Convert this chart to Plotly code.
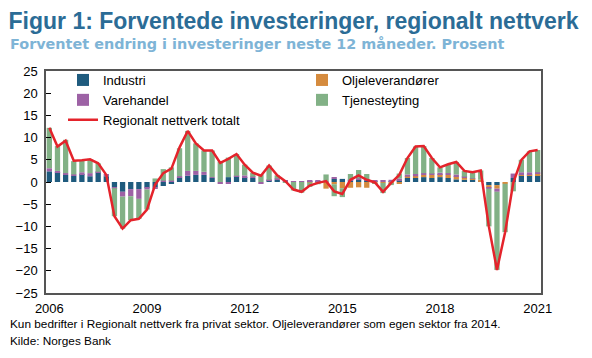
import plotly.graph_objects as go

# ---- data (quarterly, 2006K1 - 2021K1) ----
years = [2006]*4 + [2007]*4 + [2008]*4 + [2009]*4 + [2010]*4 + [2011]*4 + [2012]*4 + \
        [2013]*4 + [2014]*4 + [2015]*4 + [2016]*4 + [2017]*4 + [2018]*4 + [2019]*4 + \
        [2020]*4 + [2021]
quarter_no = [1, 2, 3, 4]*15 + [1]

industri = [2.4, 2.2, 1.6, 1.4, 1.8, 1.3, 2.2, 1.3,
            -1.2, -2.2, -1.6, -1.6, -1.3, -1.2, -0.9, -0.3,
            1.0, 1.4, 1.6, 1.6, 0.9, 0.0, 1.1, 1.3,
            1.1, 0.9, 0.0, 0.3, 0.5, 0.0, 0.0, 0.0,
            0.1, 0.1, 0.0, 0.7, 0.7, 0.3, 0.6, 0.3,
            0.1, 0.0, 0.2, 0.4, 0.9, 0.9, 1.1, 0.9,
            1.1, 0.9, 0.6, 0.5, 0.6, 0.2, -0.7, -0.7,
            0.0, 0.9, 1.5, 1.5, 1.5]
oljeleverandorer = [None]*32 + [
            -0.1, -0.1, -1.5, -0.5, -1.4, -1.3, -1.2, -1.3,
            -0.3, -0.2, -0.3, -0.3, 0.3, 0.4, 0.5, 0.7,
            0.7, 0.7, 0.7, 0.5, 0.1, 0.3, -0.6, -0.8,
            -0.4, 0.0, 0.3, 0.3, 0.4]
varehandel = [0.7, 0.3, 0.4, 0.3, 0.4, 0.7, 0.1, 0.5,
              -0.2, -1.1, -1.6, -2.2, -0.4, -0.2, 0.3, 0.3,
              0.3, 1.1, 0.9, 0.7, 0.2, -0.3, -0.3, 0.1,
              0.4, 0.3, -0.3, 0.2, 0.3, 0.3, 0.2, 0.2,
              0.2, 0.2, 0.1, 0.4, 0.0, 0.2, 0.2, 0.2,
              0.2, 0.3, 0.3, 0.4, 0.5, 0.5, 0.4, 0.3,
              0.3, 0.4, 0.4, 0.2, 0.1, 0.0, -0.2, -0.7,
              0.0, 1.0, 0.4, 0.4, 0.3]
tjenesteyting = [9.1, 5.6, 7.5, 3.0, 2.7, 3.1, 1.9, 0.0,
                 -6.3, -7.2, -5.4, -4.5, -4.5, 0.8, 2.6, 3.0,
                 6.3, 9.0, 6.2, 4.8, 6.0, 4.6, 4.4, 4.9,
                 2.4, 0.9, 1.7, 3.2, 0.7, -0.1, -1.9, -2.4,
                 -1.0, -0.4, 1.6, -2.7, -2.0, 1.3, 1.9, 1.3,
                 -0.1, -2.3, -0.4, 1.1, 3.7, 6.2, 6.1, 3.5,
                 1.2, 2.0, 2.8, 1.3, 1.4, 2.1, -8.5, -17.6,
                 -10.9, -2.1, 2.8, 4.7, 5.0]
totalt = [12.2, 8.0, 9.3, 4.8, 4.9, 5.1, 4.2, 1.6,
          -7.7, -10.5, -8.6, -8.3, -6.2, -0.6, 2.0, 3.0,
          7.8, 11.5, 8.7, 7.1, 7.1, 4.3, 5.2, 6.3,
          3.9, 2.1, 1.4, 3.7, 1.5, 0.2, -1.7, -2.2,
          -0.8, -0.2, 0.2, -2.1, -2.7, 0.5, 1.5, 0.5,
          -0.1, -2.2, -0.2, 1.6, 5.4, 8.0, 8.1, 5.4,
          3.3, 4.0, 4.5, 2.5, 2.2, 2.6, -10.0, -19.8,
          -11.3, -0.2, 5.0, 6.9, 7.2]
tick_years = [2006, 2009, 2012, 2015, 2018, 2021]
tick_labels = ["2006", "2009", "2012", "2015", "2018", "2021"]

x = [y + (q - 1) / 4 for y, q in zip(years, quarter_no)]

# ---- style ----
C_IND = "#1F5B7E"
C_OLJE = "#D58B3E"
C_VARE = "#9D62A5"
C_TJEN = "#82B186"
C_RED = "#E4232B"
FONT = "Liberation Sans, Arial, sans-serif"

fig = go.Figure()
fig.add_trace(go.Bar(x=x, y=industri, name="Industri", marker=dict(color=C_IND, line=dict(width=0)),
                     legend="legend"))
fig.add_trace(go.Bar(x=x, y=oljeleverandorer, name="Oljeleverandører", marker=dict(color=C_OLJE, line=dict(width=0)),
                     legend="legend2"))
fig.add_trace(go.Bar(x=x, y=varehandel, name="Varehandel", marker=dict(color=C_VARE, line=dict(width=0)),
                     legend="legend"))
fig.add_trace(go.Bar(x=x, y=tjenesteyting, name="Tjenesteyting", marker=dict(color=C_TJEN, line=dict(width=0)),
                     legend="legend2"))
fig.add_trace(go.Scatter(x=x, y=totalt, name="Regionalt nettverk totalt", mode="lines",
                         line=dict(color=C_RED, width=2.5), legend="legend"))

# The page body adds an 8px offset, so the figure is sized 8px smaller
OFF = 8
W, H = 592 - OFF, 358 - OFF
L, T = 46 - OFF, 71 - OFF
R, B = W - (541 - OFF), H - (293 - OFF)
pw, ph = W - L - R, H - T - B


def px_x(p):  # page pixel -> paper x
    return (p - OFF - L) / pw


def px_y(p):  # page pixel -> paper y
    return (H - B - (p - OFF)) / ph


xr = [2005.8975, 2021.1025]
yr = [-25, 25]

fig.update_layout(
    width=W, height=H,
    margin=dict(l=L, r=R, t=T, b=B, autoexpand=False),
    barmode="relative", bargap=0.35,
    plot_bgcolor="white", paper_bgcolor="white",
    font=dict(family=FONT, size=13, color="black"),
    title=dict(text="<b>Figur 1: Forventede investeringer, regionalt nettverk</b>",
               font=dict(family=FONT, size=23, color="#2B6C96"),
               x=0.5 / W, xref="container", xanchor="left",
               y=1 - 13 / H, yref="container", yanchor="middle"),
    xaxis=dict(range=xr, tickvals=tick_years, ticktext=tick_labels, ticks="",
               showgrid=False, zeroline=False, showline=True, mirror=True,
               linecolor="#555555", linewidth=1.5, ticklabelstandoff=3,
               tickfont=dict(size=13), automargin=False),
    xaxis2=dict(range=xr, overlaying="x", anchor="free", position=0.5, side="bottom",
                tickvals=tick_years, ticks="inside", ticklen=5, tickcolor="black",
                showticklabels=False, showgrid=False, zeroline=False,
                showline=True, linecolor="black", linewidth=1.5, automargin=False),
    yaxis=dict(range=yr, dtick=5, ticks="inside", ticklen=5, tickcolor="black",
               showgrid=False, zeroline=False, showline=True, mirror=True,
               linecolor="#555555", linewidth=1.5, ticklabelstandoff=4,
               tickfont=dict(size=13), automargin=False),
    yaxis2=dict(range=yr, dtick=5, overlaying="y", side="right", anchor="x",
                ticks="inside", ticklen=5, tickcolor="black",
                showgrid=False, zeroline=False, showline=False,
                ticklabelstandoff=4, tickfont=dict(size=13), automargin=False),
    legend=dict(x=px_x(63), y=px_y(65), xanchor="left", yanchor="top",
                bgcolor="rgba(0,0,0,0)", font=dict(size=13), tracegroupgap=0),
    legend2=dict(x=px_x(302), y=px_y(65), xanchor="left", yanchor="top",
                 bgcolor="rgba(0,0,0,0)", font=dict(size=13), tracegroupgap=0),
    showlegend=True,
)

annots = [
    dict(text="<b>Forventet endring i investeringer neste 12 måneder. Prosent</b>",
         x=px_x(8), y=px_y(43.5), font=dict(family="DejaVu Sans, sans-serif", size=14.4, color="#7EB4D6")),
    dict(text="Kun bedrifter i Regionalt nettverk fra privat sektor. Oljeleverandører som egen sektor fra 2014.",
         x=px_x(8), y=px_y(324), font=dict(size=11.8, color="black")),
    dict(text="Kilde: Norges Bank",
         x=px_x(8), y=px_y(341), font=dict(size=11.8, color="black")),
]
for a in annots:
    fig.add_annotation(xref="paper", yref="paper", xanchor="left", yanchor="middle",
                       showarrow=False, **a)

fig.write_html("out.html")
